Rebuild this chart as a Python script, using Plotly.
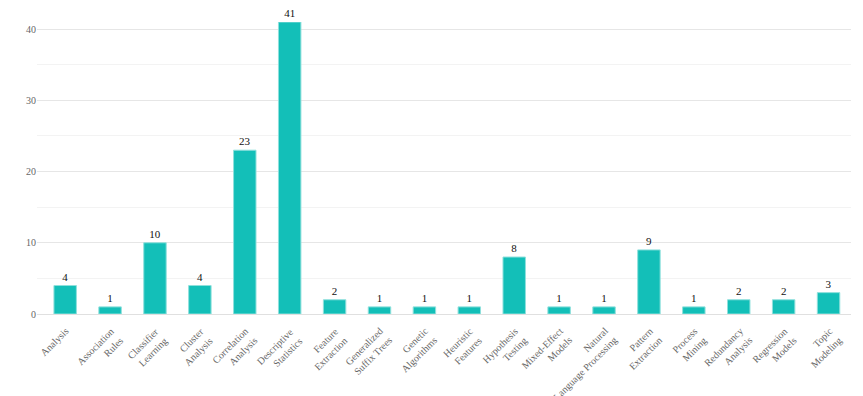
import math
import plotly.graph_objects as go

# Category names (wrapped as in the original) and counts
categories = [
    "Analysis", "Association<br>Rules", "Classifier<br>Learning", "Cluster<br>Analysis",
    "Correlation<br>Analysis", "Descriptive<br>Statistics", "Feature<br>Extraction",
    "Generalized<br>Suffix Trees", "Genetic<br>Algorithms", "Heuristic<br>Features",
    "Hypothesis<br>Testing", "Mixed-Effect<br>Models", "Natural<br>Language Processing",
    "Pattern<br>Extraction", "Process<br>Mining", "Redundancy<br>Analysis",
    "Regression<br>Models", "Topic<br>Modeling",
]
counts = [4, 1, 10, 4, 23, 41, 2, 1, 1, 1, 8, 1, 1, 9, 1, 2, 2, 3]

serif = "Liberation Serif"
label_size = 10
line_h = 13

fig = go.Figure(go.Bar(
    x=categories,
    y=counts,
    marker=dict(color="#13bfb8", line=dict(color="#8fe0dc", width=1)),
    text=[str(v) for v in counts],
    textposition="outside",
    textfont=dict(family=serif, color="#111111", size=11),
    cliponaxis=False,
))

# rotated, right-justified category labels (ggplot style), anchored so the
# end of the first line sits just below-right of each tick
for cat in categories:
    n_lines = cat.count("<br>") + 1
    fig.add_annotation(
        x=cat, y=0, xref="x", yref="y",
        text=cat, showarrow=False,
        textangle=-45, align="right",
        xanchor="right", yanchor="top",
        xshift=n_lines * line_h / math.sqrt(2) - 2,
        yshift=-10,
        borderpad=0,
        font=dict(family=serif, size=label_size, color="#666666"),
    )

# the page places the figure 8px in from the top-left corner
fig.update_layout(
    width=855, height=388,
    margin=dict(l=29, r=12, t=14, b=82),
    paper_bgcolor="white", plot_bgcolor="white",
    font=dict(family=serif, size=10, color="#666666"),
    bargap=0.5,
    showlegend=False,
)
fig.update_xaxes(
    showticklabels=False,
    showgrid=False,
    showline=True, linecolor="#e0e0e0", linewidth=1,
    automargin=False,
)
fig.update_yaxes(
    range=[0, 41],
    dtick=10,
    gridcolor="#e6e6e6",
    minor=dict(dtick=5, showgrid=True, gridcolor="#f3f3f3"),
    zeroline=False,
    tickfont=dict(family=serif, size=10, color="#666666"),
    ticks="",
    automargin=False,
)

fig.write_html("out.html")
